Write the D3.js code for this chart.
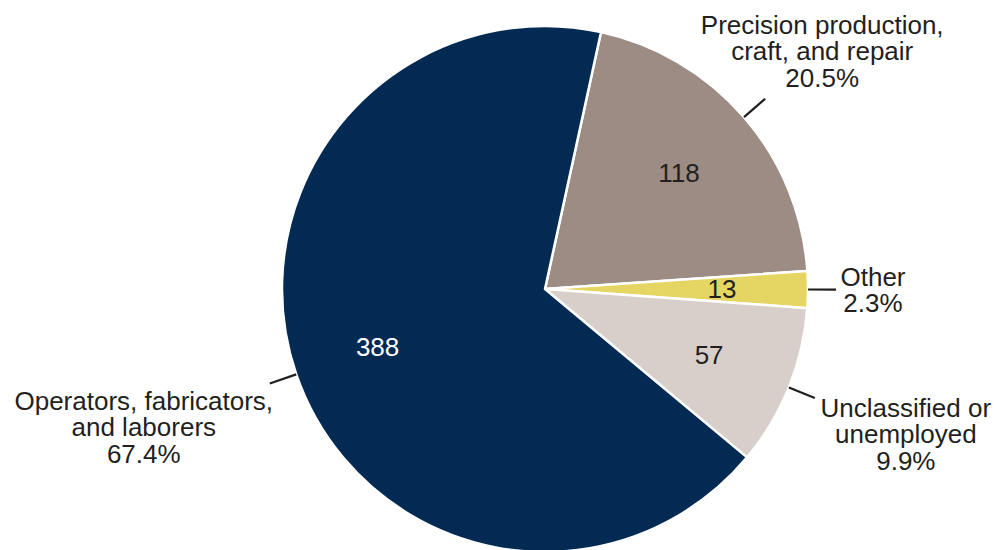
<!DOCTYPE html>
<html>
<head>
<meta charset="utf-8">
<script src="https://cdn.jsdelivr.net/npm/d3@7"></script>
<style>
  body { margin: 0; background: #fff; }
  text { font-family: "Liberation Sans", Arial, Helvetica, sans-serif; }
</style>
</head>
<body>
<div id="chart"></div>
<script>
// data
const categories = ["Precision production, craft, and repair", "Other", "Unclassified or unemployed", "Operators, fabricators, and laborers"];
const values = [118, 13, 57, 388];
const percents = ["20.5%", "2.3%", "9.9%", "67.4%"];
const labelLines = [
  ["Precision production,", "craft, and repair"],
  ["Other"],
  ["Unclassified or", "unemployed"],
  ["Operators, fabricators,", "and laborers"]
];
const colors = ["#9c8c83", "#e5d562", "#d8cfcb", "#022a53"];
const valueColors = ["#231f20", "#231f20", "#231f20", "#ffffff"];

const width = 997, height = 550;
const cx = 545, cy = 289, radius = 263;

const svg = d3.select("#chart")
  .append("svg")
    .attr("width", width)
    .attr("height", height);

const g = svg.append("g")
    .attr("transform", `translate(${cx},${cy})`);

// pie layout, starting a bit past 12 o'clock
const startAngle = 12.3 * Math.PI / 180;
const pie = d3.pie()
  .sort(null)
  .startAngle(startAngle)
  .endAngle(startAngle + 2 * Math.PI);

const arcs = pie(values);

const arc = d3.arc().innerRadius(0).outerRadius(radius);
const labelArc = d3.arc().innerRadius(177).outerRadius(177);

// slices
g.selectAll("path.slice")
  .data(arcs)
  .join("path")
    .attr("class", "slice")
    .attr("d", arc)
    .attr("fill", (d, i) => colors[i])
    .attr("stroke", "#fff")
    .attr("stroke-width", 2.5)
    .attr("stroke-linejoin", "round");

// value labels inside
g.selectAll("text.value")
  .data(arcs)
  .join("text")
    .attr("class", "value")
    .attr("x", d => labelArc.centroid(d)[0])
    .attr("y", d => labelArc.centroid(d)[1])
    .attr("dy", "0.35em")
    .attr("text-anchor", "middle")
    .attr("font-size", 26)
    .attr("fill", (d, i) => valueColors[i])
    .text(d => d.data);

// leader lines along mid angle
const midAngle = d => (d.startAngle + d.endAngle) / 2;
const pt = (a, r) => [Math.sin(a) * r, -Math.cos(a) * r];

g.selectAll("line.leader")
  .data(arcs)
  .join("line")
    .attr("class", "leader")
    .attr("x1", d => pt(midAngle(d), radius)[0])
    .attr("y1", d => pt(midAngle(d), radius)[1])
    .attr("x2", d => pt(midAngle(d), radius + 28)[0])
    .attr("y2", d => pt(midAngle(d), radius + 28)[1])
    .attr("stroke", "#231f20")
    .attr("stroke-width", 2.2);

// outer labels: offsets from leader end (layout only)
const labelOffsets = [[57, -65], [37, -4], [91, 19], [-126, 26]];
const lineH = 26.5;

const outer = g.selectAll("text.outer")
  .data(arcs)
  .join("text")
    .attr("class", "outer")
    .attr("text-anchor", "middle")
    .attr("font-size", 26)
    .attr("fill", "#231f20")
    .attr("transform", (d, i) => {
      const p = pt(midAngle(d), radius + 28);
      return `translate(${p[0] + labelOffsets[i][0]},${p[1] + labelOffsets[i][1]})`;
    });

outer.each(function(d, i) {
  const t = d3.select(this);
  const lines = labelLines[i].concat([percents[i]]);
  lines.forEach((s, k) => {
    t.append("tspan")
      .attr("x", 0)
      .attr("y", k * lineH)
      .text(s);
  });
});
</script>
</body>
</html>
